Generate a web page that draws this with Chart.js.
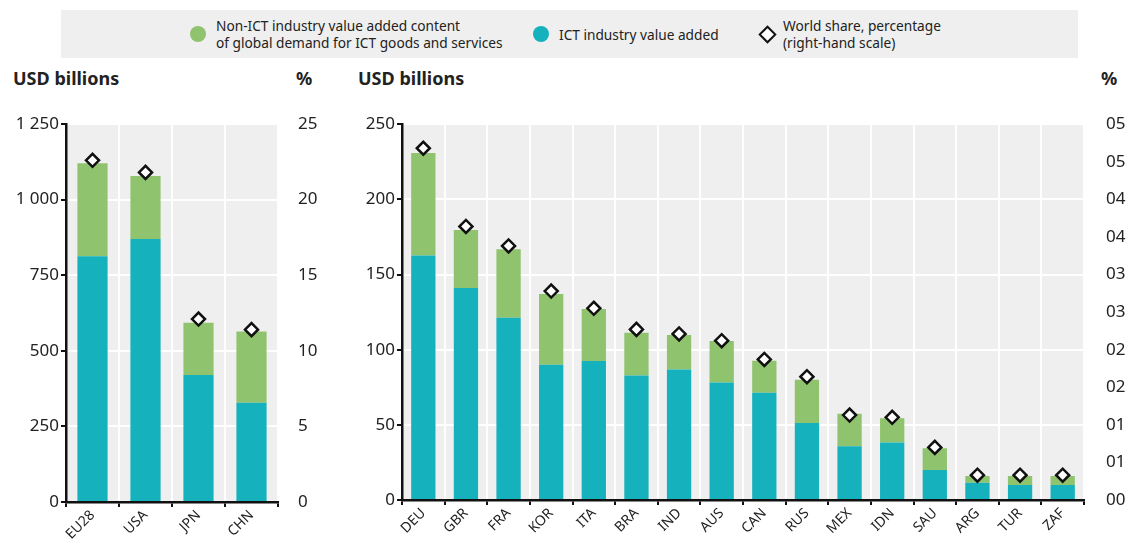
<!DOCTYPE html>
<html>
<head>
<meta charset="utf-8">
<script src="https://cdn.jsdelivr.net/npm/chart.js@4"></script>
<style>
  body { margin: 0; background: #fff; width: 1126px; height: 542px; position: relative; overflow: hidden; font-family: "Noto Sans", sans-serif; color: #222; }
  .legend { position: absolute; left: 61px; top: 10px; width: 1017px; height: 48px; background: #efefef; }
  .item { position: absolute; top: 0; height: 48px; display: flex; align-items: center; font-size: 13.7px; line-height: 17px; }
  .dot { width: 16px; height: 16px; border-radius: 50%; margin-right: 10px; }
  .diam { width: 9px; height: 9px; border: 2.5px solid #111; background: #fff; transform: rotate(45deg); margin-right: 9px; margin-left: 2px; }
  .title { position: absolute; top: 66px; font-size: 18px; font-weight: bold; }
  .box { position: absolute; top: 100px; height: 442px; }
</style>
</head>
<body>
<div class="legend">
  <div class="item" style="left:129px"><div class="dot" style="background:#8fc36e"></div><div>Non-ICT industry value added content<br>of global demand for ICT goods and services</div></div>
  <div class="item" style="left:472px"><div class="dot" style="background:#15b1bc"></div><div>ICT industry value added</div></div>
  <div class="item" style="left:698px"><div class="diam"></div><div>World share, percentage<br>(right-hand scale)</div></div>
</div>
<div class="title" style="left:13px">USD billions</div>
<div class="title" style="left:296px">%</div>
<div class="title" style="left:358px">USD billions</div>
<div class="title" style="left:1101px">%</div>
<div class="box" style="left:0; width:330px"><canvas id="chartLeft"></canvas></div>
<div class="box" style="left:345px; width:781px"><canvas id="chartRight"></canvas></div>
<script>
// Данные: левая панель
const leftCountries = ['EU28', 'USA', 'JPN', 'CHN'];
const leftIct = [813, 870, 420, 328];
const leftNonIct = [307, 208, 173, 236];
const leftShare = [22.6, 21.8, 12.1, 11.4];
const leftTicks = ['0', '250', '500', '750', '1 000', '1 250'];

// Данные: правая панель
const rightCountries = ['DEU', 'GBR', 'FRA', 'KOR', 'ITA', 'BRA', 'IND', 'AUS', 'CAN', 'RUS', 'MEX', 'IDN', 'SAU', 'ARG', 'TUR', 'ZAF'];
const rightIct = [162.6, 141, 121.2, 89.9, 92.5, 82.8, 86.8, 78.2, 71.4, 51.3, 35.7, 38.3, 20, 11.5, 9.9, 9.9];
const rightNonIct = [68.3, 38.6, 45.6, 47.1, 34.6, 28.4, 22.9, 27.5, 21.3, 28.7, 21.6, 16.1, 14.4, 4.4, 6, 6];
const rightShare = [4.68, 3.64, 3.38, 2.78, 2.55, 2.27, 2.21, 2.12, 1.87, 1.64, 1.13, 1.10, 0.70, 0.33, 0.33, 0.33];
const rightPctTicks = ['00', '01', '01', '02', '02', '03', '03', '04', '04', '05', '05'];

const GREEN = '#8fc36e';
const TEAL = '#15b1bc';
const tickFont = { family: 'Noto Sans', size: 17 };

// серый фон области графика
const plotBg = {
    id: 'plotBg',
    beforeDraw(chart) {
        const a = chart.chartArea;
        const c = chart.ctx;
        c.save();
        c.fillStyle = '#efefef';
        c.fillRect(a.left, a.top, a.right - a.left, a.bottom - a.top);
        c.restore();
    }
};

function makeChart(id, labels, ict, nonIct, share, opt) {
    return new Chart(document.getElementById(id).getContext('2d'), {
        data: {
            labels: labels,
            datasets: [
                { type: 'line', data: share, yAxisID: 'y1', showLine: false, order: 0,
                  pointStyle: 'rectRot', pointRadius: 6.5, pointBorderWidth: 2.5,
                  pointBackgroundColor: '#fff', pointBorderColor: '#111' },
                { type: 'bar', data: ict, backgroundColor: TEAL, stack: 's', order: 1,
                  barPercentage: 0.57, categoryPercentage: 1 },
                { type: 'bar', data: nonIct, backgroundColor: GREEN, stack: 's', order: 1,
                  barPercentage: 0.57, categoryPercentage: 1 }
            ]
        },
        options: {
            responsive: true,
            maintainAspectRatio: false,
            animation: false,
            layout: { padding: { top: opt.top, right: 0, left: 0, bottom: 0 } },
            plugins: { legend: { display: false }, tooltip: { enabled: false } },
            scales: {
                x: {
                    stacked: true,
                    grid: { color: '#fff', lineWidth: 2, tickColor: '#111', tickLength: 5, offset: true },
                    border: { color: '#111', width: 2.5 },
                    ticks: { color: '#222', font: { family: 'Noto Sans', size: 14 }, minRotation: 45, maxRotation: 45, padding: 0 },
                    afterFit(s) { s.height = opt.xh; }
                },
                y: {
                    stacked: true, min: 0, max: opt.max,
                    grid: { color: '#fff', lineWidth: 2, tickColor: '#111', tickLength: 5 },
                    border: { color: '#111', width: 2.5 },
                    ticks: { stepSize: opt.step, color: '#222', font: tickFont, padding: 2,
                             callback: (v, i) => opt.yTicks ? opt.yTicks[i] : v },
                    afterFit(s) { s.width = opt.yw; }
                },
                y1: {
                    position: 'right', min: 0, max: opt.pmax,
                    grid: { display: false },
                    border: { display: false },
                    ticks: { stepSize: opt.pstep, color: '#222', font: tickFont, padding: opt.ppad,
                             callback: (v, i) => opt.pTicks ? opt.pTicks[i] : v },
                    afterFit(s) { s.width = opt.rw; }
                }
            }
        },
        plugins: [plotBg]
    });
}

makeChart('chartLeft', leftCountries, leftIct, leftNonIct, leftShare,
    { top: 24, xh: 40, yw: 66, rw: 52, max: 1250, step: 250, yTicks: leftTicks, pmax: 25, pstep: 5, ppad: 12 });

makeChart('chartRight', rightCountries, rightIct, rightNonIct, rightShare,
    { top: 22, xh: 42, yw: 57, rw: 42, max: 250, step: 50, pmax: 5, pstep: 0.5, pTicks: rightPctTicks, ppad: 14 });
</script>
</body>
</html>
